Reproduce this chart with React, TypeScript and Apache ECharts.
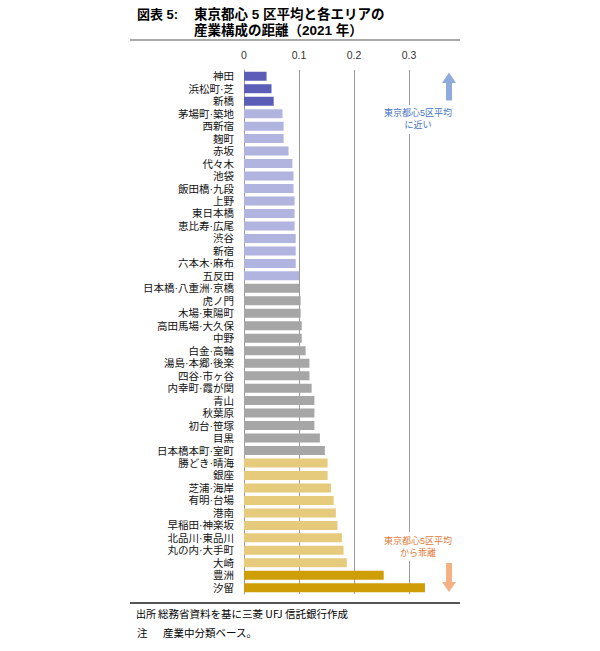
import React, { useEffect, useRef } from "react";
import * as echarts from "echarts";

const categories = [
  "神田", "浜松町·芝", "新橋", "茅場町·築地", "西新宿", "麹町", "赤坂", "代々木", "池袋", "飯田橋·九段",
  "上野", "東日本橋", "恵比寿·広尾", "渋谷", "新宿", "六本木·麻布", "五反田",
  "日本橋·八重洲·京橋", "虎ノ門", "木場·東陽町", "高田馬場·大久保", "中野", "白金·高輪", "湯島·本郷·後楽",
  "四谷·市ヶ谷", "内幸町·霞が関", "青山", "秋葉原", "初台·笹塚", "目黒", "日本橋本町·室町",
  "勝どき·晴海", "銀座", "芝浦·海岸", "有明·台場", "港南", "早稲田·神楽坂", "北品川·東品川", "丸の内·大手町",
  "大崎", "豊洲", "汐留",
];

const values = [
  0.041, 0.050, 0.054, 0.070, 0.072, 0.072, 0.081, 0.088, 0.090, 0.090,
  0.092, 0.092, 0.092, 0.094, 0.094, 0.094, 0.100,
  0.100, 0.103, 0.103, 0.105, 0.105, 0.112, 0.119,
  0.119, 0.123, 0.128, 0.128, 0.128, 0.138, 0.147,
  0.152, 0.152, 0.158, 0.163, 0.167, 0.170, 0.178, 0.181,
  0.187, 0.254, 0.329,
];

// group index for each category (colour class)
const groups = [
  0, 0, 0, 1, 1, 1, 1, 1, 1, 1,
  1, 1, 1, 1, 1, 1, 1,
  2, 2, 2, 2, 2, 2, 2,
  2, 2, 2, 2, 2, 2, 2,
  3, 3, 3, 3, 3, 3, 3, 3,
  3, 4, 4,
];

const palette = ["#5B5DB6", "#B2B4E0", "#A6A6A6", "#E6CB7C", "#CF9D06"];

const xTicks = [0, 0.1, 0.2, 0.3];
const gridLines = [0.1, 0.2, 0.3];

export default function App() {
  const ref = useRef<HTMLDivElement>(null);
  useEffect(() => {
    if (!ref.current) return;
    const chart = echarts.init(ref.current, null, { renderer: "svg" });
    const cjk = '"Noto Sans CJK JP", "Noto Sans", sans-serif';
    const tight = '"Liberation Sans", "Noto Sans CJK JP", sans-serif';
    const option: any = {
      animation: false,
      backgroundColor: "#ffffff",
      textStyle: { fontFamily: cjk },
      grid: { left: 244, right: 163.5, top: 70, bottom: 57, containLabel: false },
      xAxis: {
        type: "value",
        position: "top",
        min: 0,
        max: 0.35,
        interval: 0.1,
        axisLine: { show: false },
        axisTick: { show: false },
        splitLine: { show: false },
        axisLabel: {
          showMaxLabel: false,
          fontSize: 10.5,
          color: "#333",
          margin: 10,
          fontFamily: '"Liberation Sans", Arial, sans-serif',
          formatter: (v: number) => (xTicks.some((t) => Math.abs(t - v) < 1e-9) ? String(Math.round(v * 10) / 10) : ""),
        },
      },
      yAxis: {
        type: "category",
        inverse: true,
        data: categories,
        axisLine: { show: true, lineStyle: { color: "#9a9a9a", width: 1 } },
        axisTick: { show: false },
        axisLabel: { interval: 0, fontSize: 10.5, lineHeight: 12, color: "#111", margin: 10, fontFamily: tight },
      },
      series: [
        {
          type: "bar",
          barWidth: 9,
          data: values.map((v, i) => ({ value: v, itemStyle: { color: palette[groups[i]] } })),
          markLine: {
            silent: true,
            symbol: "none",
            label: { show: false },
            lineStyle: { color: "#9a9a9a", type: "solid", width: 1 },
            data: gridLines.map((g) => ({ xAxis: g })),
            z: 1,
          },
        },
      ],
      graphic: [
        { type: "text", z: 100, left: 137, top: 7, style: { text: "図表 5:", font: `bold 13px ${tight}`, fill: "#000", lineHeight: 15 } },
        { type: "text", z: 100, left: 194, top: 7, style: { text: "東京都心 5 区平均と各エリアの", font: `bold 13.5px ${tight}`, fill: "#000", lineHeight: 15 } },
        { type: "text", z: 100, left: 194, top: 23, style: { text: "産業構成の距離（2021 年）", font: `bold 13.5px ${tight}`, fill: "#000", lineHeight: 15 } },
        { type: "line", z: 100, shape: { x1: 130, y1: 40, x2: 460, y2: 40 }, style: { stroke: "#555", lineWidth: 1 } },
        { type: "line", z: 100, shape: { x1: 130, y1: 603, x2: 460, y2: 603 }, style: { stroke: "#555", lineWidth: 2 } },
        { type: "text", z: 100, left: 136, top: 608, style: { text: "出所", font: `10px ${cjk}`, fill: "#000" } },
        { type: "text", z: 100, left: 158, top: 608, style: { text: "総務省資料を基に三菱 UFJ 信託銀行作成", font: `10.5px ${cjk}`, fill: "#000" } },
        { type: "text", z: 100, left: 137, top: 627, style: { text: "注", font: `10.5px ${cjk}`, fill: "#000" } },
        { type: "text", z: 100, left: 163, top: 627, style: { text: "産業中分類ベース。", font: `10.5px ${cjk}`, fill: "#000" } },
        // upper annotation
        { type: "rect", z: 100, shape: { x: 384, y: 105, width: 70, height: 29 }, style: { fill: "#fff" } },
        {
          type: "text", z: 101, x: 418, y: 119,
          style: { text: "東京都心5区平均\nに近い", font: `9px ${tight}`, fill: "#4472C4", align: "center", verticalAlign: "middle", lineHeight: 12 },
        },
        {
          type: "polygon", z: 100,
          shape: { points: [[449, 72.5], [456, 83], [452, 83], [452, 100.5], [446, 100.5], [446, 83], [442, 83]] },
          style: { fill: "#8FAADC" },
        },
        // lower annotation
        { type: "rect", z: 100, shape: { x: 384, y: 532, width: 70, height: 29 }, style: { fill: "#fff" } },
        {
          type: "text", z: 101, x: 418, y: 547,
          style: { text: "東京都心5区平均\nから乖離", font: `9px ${tight}`, fill: "#E07B39", align: "center", verticalAlign: "middle", lineHeight: 12 },
        },
        {
          type: "polygon", z: 100,
          shape: { points: [[446, 563], [452, 563], [452, 582], [456, 582], [449, 592], [442, 582], [446, 582]] },
          style: { fill: "#F4B183" },
        },
      ],
    };
    chart.setOption(option);
    return () => chart.dispose();
  }, []);
  return <div ref={ref} style={{ position: "fixed", left: 0, top: 0, width: 600, height: 651, background: "#fff" }} />;
}
